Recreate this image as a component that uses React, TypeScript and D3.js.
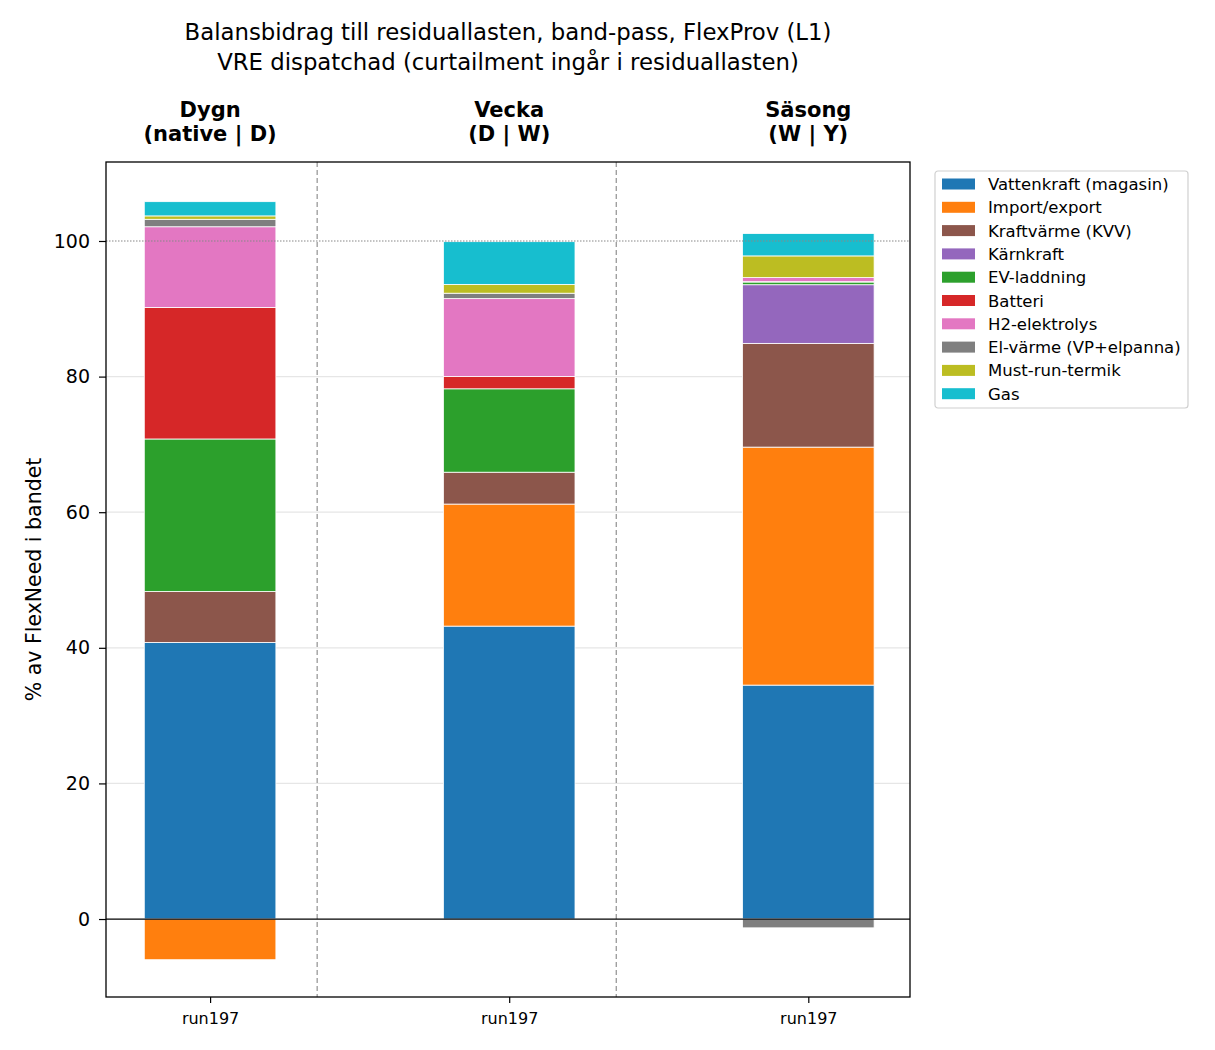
import { useRef, useEffect } from 'react'
import * as d3 from 'd3'

// bands shown as columns
const bands = ["Dygn", "Vecka", "Säsong"]
const bandSub = ["(native | D)", "(D | W)", "(W | Y)"]
const runLabel = "run197"

const series = [
  "Vattenkraft (magasin)",
  "Import/export",
  "Kraftvärme (KVV)",
  "Kärnkraft",
  "EV-laddning",
  "Batteri",
  "H2-elektrolys",
  "El-värme (VP+elpanna)",
  "Must-run-termik",
  "Gas",
]
const colors = ["#1f77b4", "#ff7f0e", "#8c564b", "#9467bd", "#2ca02c", "#d62728", "#e377c2", "#7f7f7f", "#bcbd22", "#17becf"]

// % of FlexNeed per band, same order as series
const dygn = [40.8, -6.0, 7.5, 0, 22.5, 19.4, 11.9, 1.1, 0.5, 2.1]
const vecka = [43.2, 18.0, 4.7, 0, 12.3, 1.8, 11.5, 0.8, 1.3, 6.3]
const sasong = [34.5, 35.1, 15.3, 8.65, 0.4, 0.05, 0.6, -1.3, 3.2, 3.3]

const yTicks = [0, 20, 40, 60, 80, 100]

export default function App() {
  const svgRef = useRef<SVGSVGElement>(null)
  const width = 1215
  const height = 1050
  const margin = { top: 162, right: 305, bottom: 53, left: 106 }

  useEffect(() => {
    if (!svgRef.current) return
    document.body.style.margin = "0"
    const svg = d3.select(svgRef.current)
    svg.selectAll("*").remove()

    const innerWidth = width - margin.left - margin.right
    const innerHeight = height - margin.top - margin.bottom
    const font = "DejaVu Sans, sans-serif"

    const x = d3.scaleLinear().domain([-0.348, 2.34]).range([0, innerWidth])
    const y = d3.scaleLinear().domain([-11.5, 111.65]).range([innerHeight, 0])
    const barW = x(0.44) - x(0)

    const g = svg.append("g").attr("transform", `translate(${margin.left},${margin.top})`)

    // grid
    g.selectAll("line.grid")
      .data(yTicks.filter(t => t > 0 && t < 100))
      .enter()
      .append("line")
      .attr("x1", 0)
      .attr("x2", innerWidth)
      .attr("y1", d => y(d))
      .attr("y2", d => y(d))
      .attr("stroke", "#e6e6e6")
      .attr("stroke-width", 1.2)

    // band separators
    g.selectAll("line.sep")
      .data([0.358, 1.358])
      .enter()
      .append("line")
      .attr("x1", d => x(d))
      .attr("x2", d => x(d))
      .attr("y1", 0)
      .attr("y2", innerHeight)
      .attr("stroke", "#999")
      .attr("stroke-width", 1.3)
      .attr("stroke-dasharray", "5,3")

    // stacked bars
    const all = [dygn, vecka, sasong]
    all.forEach((vals, bi) => {
      let pos = 0
      let neg = 0
      vals.forEach((v, si) => {
        if (v === 0) return
        let y0, y1
        if (v > 0) { y0 = pos; y1 = pos + v; pos = y1 }
        else { y0 = neg + v; y1 = neg; neg = y0 }
        g.append("rect")
          .attr("x", x(bi) - barW / 2)
          .attr("width", barW)
          .attr("y", y(y1))
          .attr("height", y(y0) - y(y1))
          .attr("fill", colors[si])
          .attr("stroke", "white")
          .attr("stroke-width", 0.8)
          .append("title")
          .text(`${bands[bi]} – ${series[si]}: ${v}`)
      })
    })

    // zero line and 100 line
    g.append("line")
      .attr("x1", 0).attr("x2", innerWidth)
      .attr("y1", y(0)).attr("y2", y(0))
      .attr("stroke", "black").attr("stroke-width", 1.2)
    g.append("line")
      .attr("x1", 0).attr("x2", innerWidth)
      .attr("y1", y(100)).attr("y2", y(100))
      .attr("stroke", "#888").attr("stroke-width", 1.2)
      .attr("stroke-dasharray", "1.5,1.5")

    // y axis
    const yAxis = g.append("g")
      .call(d3.axisLeft(y).tickValues(yTicks).tickSize(7).tickPadding(9).tickFormat(d3.format("d")))
    yAxis.select(".domain").remove()
    yAxis.selectAll("text").attr("font-size", 19).attr("font-family", font).attr("fill", "#000")
    yAxis.selectAll("line").attr("stroke", "#000").attr("stroke-width", 1.2)

    // x axis
    const xAxis = g.append("g")
      .attr("transform", `translate(0,${innerHeight})`)
      .call(d3.axisBottom(x).tickValues([0, 1, 2]).tickSize(6).tickPadding(10).tickFormat(() => runLabel))
    xAxis.select(".domain").remove()
    xAxis.selectAll("text").attr("font-size", 16).attr("font-family", font).attr("fill", "#000")
    xAxis.selectAll("line").attr("stroke", "#000").attr("stroke-width", 1.2)

    // frame
    g.append("rect")
      .attr("width", innerWidth).attr("height", innerHeight)
      .attr("fill", "none").attr("stroke", "#000").attr("stroke-width", 1.3)

    // band headers
    bands.forEach((b, i) => {
      const t = g.append("text")
        .attr("x", x(i)).attr("y", -45)
        .attr("text-anchor", "middle")
        .attr("font-family", font).attr("font-weight", "bold").attr("font-size", 21)
      t.append("tspan").attr("x", x(i)).attr("dy", 0).text(b)
      t.append("tspan").attr("x", x(i)).attr("dy", 24).text(bandSub[i])
    })

    // title
    svg.append("text")
      .attr("x", margin.left + innerWidth / 2).attr("y", 40)
      .attr("text-anchor", "middle").attr("font-family", font).attr("font-size", 22.8)
      .text("Balansbidrag till residuallasten, band-pass, FlexProv (L1)")
    svg.append("text")
      .attr("x", margin.left + innerWidth / 2).attr("y", 70)
      .attr("text-anchor", "middle").attr("font-family", font).attr("font-size", 22.8)
      .text("VRE dispatchad (curtailment ingår i residuallasten)")

    // y label
    svg.append("text")
      .attr("transform", `translate(41,${margin.top + innerHeight / 2}) rotate(-90)`)
      .attr("text-anchor", "middle").attr("font-family", font).attr("font-size", 20.5)
      .text("% av FlexNeed i bandet")

    // legend
    const lg = svg.append("g").attr("transform", "translate(935,171)")
    lg.append("rect")
      .attr("width", 253).attr("height", 237)
      .attr("rx", 3).attr("fill", "white")
      .attr("stroke", "#d0d0d0").attr("stroke-width", 1.2)
    series.forEach((s, i) => {
      const row = lg.append("g").attr("transform", `translate(0,${13 + i * 23.3})`)
      row.append("rect")
        .attr("x", 7).attr("y", -5.5).attr("width", 33).attr("height", 11)
        .attr("fill", colors[i])
      row.append("text")
        .attr("x", 53).attr("y", 6)
        .attr("font-family", font).attr("font-size", 16.5)
        .text(s)
    })
  }, [])

  return <svg ref={svgRef} width={width} height={height} style={{ display: "block" }} />
}
